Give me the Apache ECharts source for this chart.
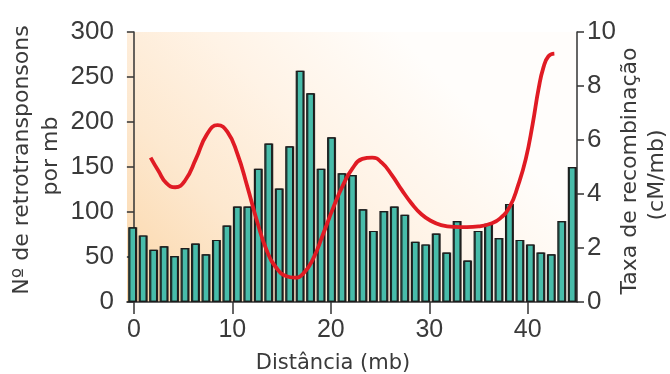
<!DOCTYPE html>
<html><head><meta charset="utf-8">
<script src="https://cdn.jsdelivr.net/npm/echarts@6/dist/echarts.min.js"></script>
<style>html,body{margin:0;padding:0;background:#fff}#c{width:670px;height:374px}</style>
</head><body><div id="c"></div>
<script>
// 1-Mb bins (bar categories)
const binLabels = ['1','2','3','4','5','6','7','8','9','10','11','12','13','14','15','16','17','18','19','20','21','22','23','24','25','26','27','28','29','30','31','32','33','34','35','36','37','38','39','40','41','42','43'];
// Nº de retrotransponsons por mb
const retroCounts = [83,74,58,62,51,60,65,53,69,85,106,106,148,176,126,173,257,232,148,183,143,141,103,79,101,106,97,67,64,76,55,90,46,79,87,71,109,69,64,55,53,90,150];
// Recombination rate curve: distance (mb) and rate (cM/mb)
const recombDist = [1.7,2.5,3.3,4.2,5.2,6.3,7.4,8.5,9.5,10.5,11.5,12.5,13.5,14.5,15.5,16.3,17.2,18.2,19.2,20.2,21.2,22.2,23.2,24.2,25.2,26.2,27.2,28.2,29.2,30.2,31.2,32.5,33.8,35.0,36.2,37.2,38.2,39.0,39.8,40.5,41.1,41.6,42.1,42.7];
const recombRate = [5.35,4.85,4.4,4.25,4.5,5.3,6.2,6.55,6.3,5.5,4.3,3.0,1.9,1.25,0.95,0.9,1.05,1.6,2.5,3.45,4.3,4.95,5.3,5.35,5.15,4.7,4.15,3.65,3.25,3.0,2.85,2.78,2.77,2.8,2.9,3.1,3.55,4.3,5.3,6.6,7.9,8.7,9.1,9.2];
const xTicks = [0,10,20,30,40];

const txt = '#3a3a3a';
const numFont = "'Liberation Sans',sans-serif";

const chart = echarts.init(document.getElementById('c'), null, {renderer:'canvas'});
chart.setOption({
  animation:false,
  grid:{left:127,right:93,top:32,bottom:72,show:true,borderWidth:0,
    backgroundColor:{type:'linear',x:0,y:1,x2:0.6,y2:0,colorStops:[
      {offset:0,color:'#fbd6a8'},{offset:0.35,color:'#fde8cf'},{offset:0.65,color:'#fff3e6'},{offset:1,color:'#fffdfb'}]}},
  xAxis:[
    {type:'value',min:-0.7,max:45,position:'bottom',
     axisLine:{show:true,onZero:false,lineStyle:{color:'#333',width:1.5}},
     axisTick:{show:true,length:12,customValues:xTicks,lineStyle:{color:'#333',width:1.5}},
     axisLabel:{show:true,customValues:xTicks,margin:16,color:txt,fontSize:25,fontFamily:numFont},
     splitLine:{show:false}},
    {type:'category',data:binLabels,boundaryGap:true,show:false}
  ],
  yAxis:[
    {type:'value',min:0,max:300,interval:50,position:'left',
     axisLine:{show:true,lineStyle:{color:'#333',width:1.5}},
     axisTick:{show:true,length:7,lineStyle:{color:'#333',width:1.5}},
     axisLabel:{margin:13,color:txt,fontSize:26,fontFamily:numFont},
     splitLine:{show:false}},
    {type:'value',min:0,max:10,interval:2,position:'right',
     axisLine:{show:true,lineStyle:{color:'#333',width:1.5}},
     axisTick:{show:true,length:7,lineStyle:{color:'#333',width:1.5}},
     axisLabel:{margin:10,color:txt,fontSize:26,fontFamily:numFont},
     splitLine:{show:false}}
  ],
  series:[
    {type:'bar',xAxisIndex:1,yAxisIndex:0,data:retroCounts,barWidth:8,
     itemStyle:{color:'#48bcaa',borderColor:'#1c1c1c',borderWidth:1.2,
       shadowColor:'rgba(20,20,20,0.85)',shadowOffsetX:1,shadowBlur:0},z:2},
    {type:'line',xAxisIndex:0,yAxisIndex:1,smooth:0.5,symbol:'none',
     data:recombDist.map((d,i)=>[d,recombRate[i]]),
     lineStyle:{color:'#e01b24',width:3.8},z:5}
  ],
  graphic:[
    {type:'text',x:22,y:160,rotation:Math.PI/2,style:{text:'Nº de retrotransponsons',font:"22px 'DejaVu Sans',sans-serif",fill:txt,textAlign:'center',textVerticalAlign:'middle'}},
    {type:'text',x:51,y:156,rotation:Math.PI/2,style:{text:'por mb',font:"22px 'DejaVu Sans',sans-serif",fill:txt,textAlign:'center',textVerticalAlign:'middle'}},
    {type:'text',x:630,y:171,rotation:Math.PI/2,style:{text:'Taxa de recombinação',font:"22px 'DejaVu Sans',sans-serif",fill:txt,textAlign:'center',textVerticalAlign:'middle'}},
    {type:'text',x:657,y:175,rotation:Math.PI/2,style:{text:'(cM/mb)',font:"22px 'DejaVu Sans',sans-serif",fill:txt,textAlign:'center',textVerticalAlign:'middle'}},
    {type:'text',x:333,y:364,style:{text:'Distância (mb)',font:"21px 'DejaVu Sans',sans-serif",fill:txt,textAlign:'center',textVerticalAlign:'middle'}}
  ]
});
</script></body></html>
